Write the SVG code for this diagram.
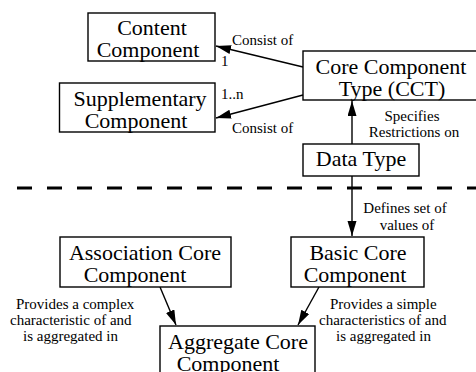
<svg xmlns="http://www.w3.org/2000/svg" width="476" height="372" viewBox="0 0 476 372">
  <style>
    .box { fill: #fff; stroke: #000; stroke-width: 1.4; }
    .big { font-family: 'Liberation Serif', 'DejaVu Serif', serif; font-size: 22px; fill: #000; }
    .mid { text-anchor: middle; }
    .lbl { font-family: 'Liberation Serif', 'DejaVu Serif', serif; font-size: 15px; fill: #000; }
    .edge { stroke: #000; stroke-width: 1.4; fill: none; marker-end: url(#arrow); }
    .sep { stroke: #000; stroke-width: 3; stroke-dasharray: 15 15; fill: none; }
  </style>
  <defs>
    <marker id="arrow" markerUnits="userSpaceOnUse" markerWidth="16" markerHeight="10" refX="15" refY="4.5" orient="auto">
      <path d="M0,0 L15,4.5 L0,9 z" fill="#000"/>
    </marker>
  </defs>

  <rect width="476" height="372" fill="#fff"/>

  <!-- separator between type layer and component layer -->
  <line class="sep" x1="17" y1="188" x2="476" y2="188"/>

  <g id="connectors">
    <line class="edge" x1="303" y1="67" x2="216" y2="46"/>
    <line class="edge" x1="303" y1="95" x2="216" y2="118"/>
    <line class="edge" x1="352" y1="144" x2="352" y2="101"/>
    <line class="edge" x1="352" y1="176" x2="352" y2="236"/>
    <line class="edge" x1="160" y1="287" x2="176" y2="325"/>
    <line class="edge" x1="319" y1="287" x2="298" y2="325"/>

    <text class="lbl" x="232" y="45">Consist of</text>
    <text class="lbl" x="221" y="66">1</text>
    <text class="lbl" x="221" y="99">1..n</text>
    <text class="lbl" x="232" y="133">Consist of</text>
    <text class="lbl mid" x="412" y="121">Specifies</text>
    <text class="lbl mid" x="414" y="137">Restrictions on</text>
    <text class="lbl mid" x="405" y="213">Defines set of</text>
    <text class="lbl mid" x="407" y="230">values of</text>
    <text class="lbl" x="16" y="309">Provides a complex</text>
    <text class="lbl" x="10" y="325">characteristic of and</text>
    <text class="lbl" x="23" y="341">is aggregated in</text>
    <text class="lbl" x="330" y="309">Provides a simple</text>
    <text class="lbl" x="319" y="325">characteristics of and</text>
    <text class="lbl" x="336" y="341">is aggregated in</text>
  </g>

  <g id="content-component">
    <rect class="box" x="88" y="13" width="127" height="48"/>
    <text class="big mid" x="152" y="35">Content</text>
    <text class="big mid" x="148" y="57">Component</text>
  </g>

  <g id="supplementary-component">
    <rect class="box" x="59.5" y="83" width="155.5" height="49"/>
    <text class="big mid" x="140" y="106">Supplementary</text>
    <text class="big mid" x="136" y="128">Component</text>
  </g>

  <g id="core-component-type">
    <rect class="box" x="303" y="51" width="180" height="49"/>
    <text class="big mid" x="391" y="74">Core Component</text>
    <text class="big mid" x="392" y="96">Type (CCT)</text>
  </g>

  <g id="data-type">
    <rect class="box" x="303" y="144" width="116" height="32"/>
    <text class="big mid" x="361" y="166">Data Type</text>
  </g>

  <g id="association-core-component">
    <rect class="box" x="60" y="237" width="171" height="50"/>
    <text class="big mid" x="145" y="260">Association Core</text>
    <text class="big mid" x="135" y="282">Component</text>
  </g>

  <g id="basic-core-component">
    <rect class="box" x="291" y="237" width="133" height="50"/>
    <text class="big mid" x="358" y="260">Basic Core</text>
    <text class="big mid" x="355" y="282">Component</text>
  </g>

  <g id="aggregate-core-component">
    <rect class="box" x="160" y="326" width="155" height="50"/>
    <text class="big mid" x="238" y="349">Aggregate Core</text>
    <text class="big mid" x="228" y="371">Component</text>
  </g>
</svg>
